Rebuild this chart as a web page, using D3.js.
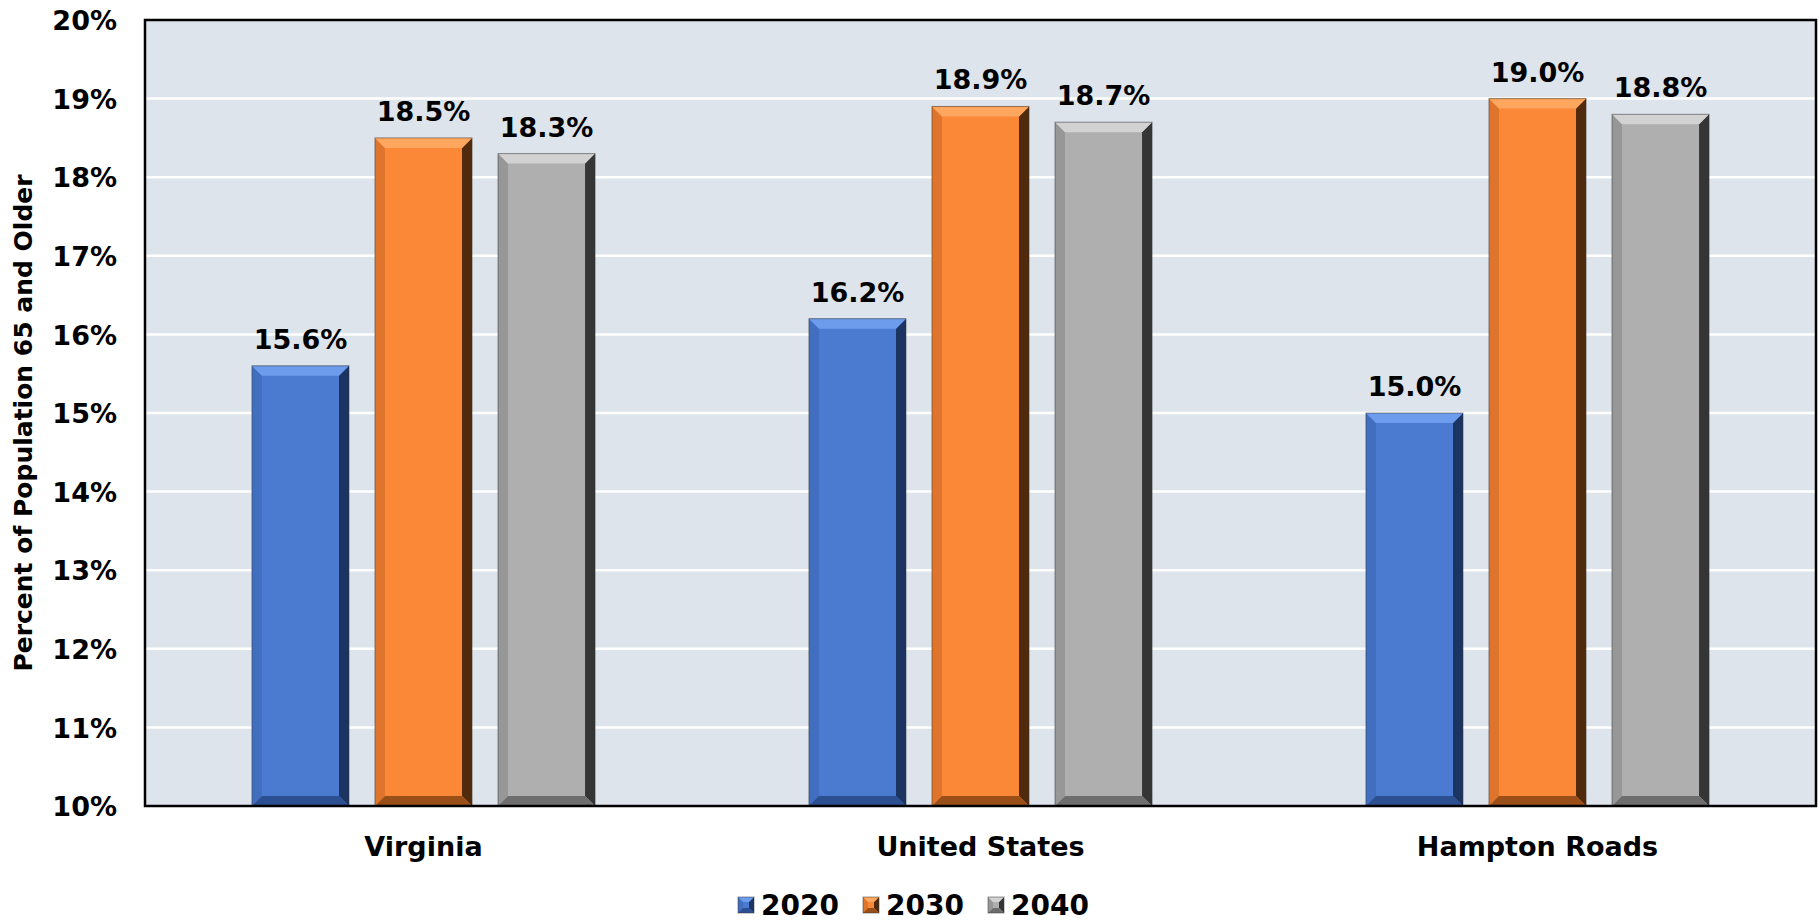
<!DOCTYPE html>
<html>
<head>
<meta charset="utf-8">
<script src="https://cdn.jsdelivr.net/npm/d3@7"></script>
<style>
  html, body { margin: 0; padding: 0; background: #fff; }
  svg text { font-family: "DejaVu Sans", sans-serif; font-weight: bold; fill: #000; }
</style>
</head>
<body>
<div id="chart"></div>
<script>
// data
const categories = ['Virginia', 'United States', 'Hampton Roads'];
const years = ['2020', '2030', '2040'];
const v2020 = [15.6, 16.2, 15.0];
const v2030 = [18.5, 18.9, 19.0];
const v2040 = [18.3, 18.7, 18.8];
const yTicks = [10, 11, 12, 13, 14, 15, 16, 17, 18, 19, 20];

const seriesValues = { '2020': v2020, '2030': v2030, '2040': v2040 };

// bevel colours for each series
const palette = {
    '2020': { base: '#4a7bd0', light: '#6d9cec', left: '#3f6bba', right: '#1c3461', bottom: '#2c4f92' },
    '2030': { base: '#fb8836', light: '#ffa75e', left: '#d8712a', right: '#4f2a0c', bottom: '#9a4f18' },
    '2040': { base: '#afafaf', light: '#d2d2d2', left: '#919191', right: '#353535', bottom: '#6e6e6e' }
};

const W = 1820, H = 923;
const plot = { left: 145, right: 1816, top: 20, bottom: 806 };

const svg = d3.select('#chart').append('svg')
    .attr('width', W)
    .attr('height', H);

// scales
const x0 = d3.scaleBand()
    .domain(categories)
    .range([plot.left, plot.right])
    .paddingInner(0.384)
    .paddingOuter(0.192);

const x1 = d3.scaleBand()
    .domain(years)
    .range([0, x0.bandwidth()])
    .paddingInner(0.211);

const y = d3.scaleLinear()
    .domain([10, 20])
    .range([plot.bottom, plot.top]);

// plot background
svg.append('rect')
    .attr('x', plot.left)
    .attr('y', plot.top)
    .attr('width', plot.right - plot.left)
    .attr('height', plot.bottom - plot.top)
    .attr('fill', '#dee4eb');

// gridlines
svg.append('g')
    .selectAll('line')
    .data(yTicks.slice(1, -1))
    .join('line')
    .attr('x1', plot.left)
    .attr('x2', plot.right)
    .attr('y1', d => y(d))
    .attr('y2', d => y(d))
    .attr('stroke', '#fff')
    .attr('stroke-width', 2.5);

// y axis labels
const yAxis = d3.axisLeft(y)
    .tickValues(yTicks)
    .tickSize(0)
    .tickPadding(28)
    .tickFormat(d => d + '%');
const yg = svg.append('g')
    .attr('transform', `translate(${plot.left},0)`)
    .call(yAxis);
yg.select('.domain').remove();
yg.selectAll('text')
    .style('font-size', '27px')
    .attr('dy', '0.36em');

// y axis title
svg.append('text')
    .attr('transform', `translate(32,${(plot.top + plot.bottom) / 2 + 10}) rotate(-90)`)
    .attr('text-anchor', 'middle')
    .style('font-size', '25px')
    .text('Percent of Population 65 and Older');

// bevelled bar
function bevelBar(g, bx, by, bw, bh, col, d) {
    const x2 = bx + bw, y2 = by + bh;
    g.append('rect')
        .attr('x', bx).attr('y', by).attr('width', bw).attr('height', bh)
        .attr('fill', col.base);
    g.append('polygon')
        .attr('points', [[bx, by], [bx + d, by + d], [bx + d, y2 - d], [bx, y2]].join(' '))
        .attr('fill', col.left).attr('opacity', 0.8);
    g.append('polygon')
        .attr('points', [[x2, by], [x2, y2], [x2 - d, y2 - d], [x2 - d, by + d]].join(' '))
        .attr('fill', col.right);
    g.append('polygon')
        .attr('points', [[bx, y2], [bx + d, y2 - d], [x2 - d, y2 - d], [x2, y2]].join(' '))
        .attr('fill', col.bottom);
    g.append('polygon')
        .attr('points', [[bx, by], [x2, by], [x2 - d, by + d], [bx + d, by + d]].join(' '))
        .attr('fill', col.light);
    g.append('rect')
        .attr('x', bx).attr('y', by).attr('width', bw).attr('height', bh)
        .attr('fill', 'none')
        .attr('stroke', '#333')
        .attr('stroke-opacity', 0.5)
        .attr('stroke-width', 1);
}

// bars
const groups = svg.append('g')
    .selectAll('g')
    .data(categories)
    .join('g')
    .attr('transform', d => `translate(${x0(d)},0)`);

groups.each(function (cat, i) {
    const g = d3.select(this);
    years.forEach(yr => {
        const v = seriesValues[yr][i];
        const bx = x1(yr);
        const by = y(v);
        bevelBar(g.append('g'), bx, by, x1.bandwidth(), y(10) - by, palette[yr], 10);
        g.append('text')
            .attr('x', bx + x1.bandwidth() / 2)
            .attr('y', by - 17)
            .attr('text-anchor', 'middle')
            .style('font-size', '27px')
            .text(v.toFixed(1) + '%');
    });
});

// plot border
svg.append('rect')
    .attr('x', plot.left)
    .attr('y', plot.top)
    .attr('width', plot.right - plot.left)
    .attr('height', plot.bottom - plot.top)
    .attr('fill', 'none')
    .attr('stroke', '#000')
    .attr('stroke-width', 2.5);

// x axis labels
const xAxis = d3.axisBottom(x0).tickSize(0).tickPadding(0);
const xg = svg.append('g')
    .attr('transform', `translate(0,${plot.bottom})`)
    .call(xAxis);
xg.select('.domain').remove();
xg.selectAll('text')
    .attr('dy', null)
    .attr('y', 50)
    .style('font-size', '27px');

// legend
const legendX = d3.scalePoint()
    .domain(years)
    .range([738, 988]);

const legend = svg.append('g')
    .selectAll('g')
    .data(years)
    .join('g')
    .attr('transform', d => `translate(${legendX(d)},905)`);

legend.each(function (yr) {
    bevelBar(d3.select(this).append('g'), 0, -8, 16, 16, palette[yr], 5);
});
legend.append('text')
    .attr('x', 23)
    .attr('y', 0)
    .attr('dy', '0.36em')
    .style('font-size', '28px')
    .text(d => d);
</script>
</body>
</html>
